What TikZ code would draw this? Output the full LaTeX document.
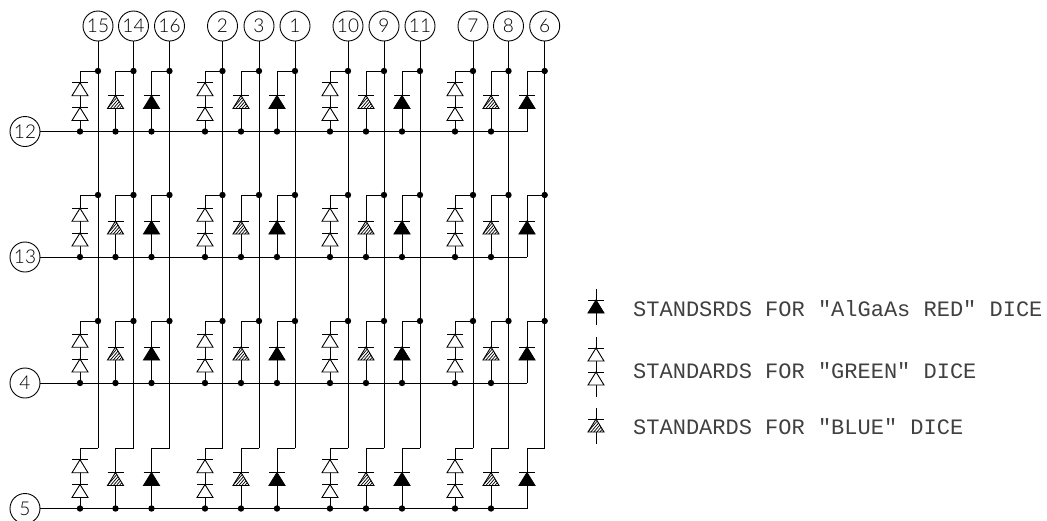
\documentclass[tikz,border=0pt]{standalone}
\usepackage{fontspec}
\setmainfont{Lato Light}
\newfontfamily\cadfont{Liberation Mono}
\usetikzlibrary{patterns}
\tikzset{
  x=1pt,y=-1pt,
  wire/.style={line width=0.9pt,line join=miter},
  pin/.style={circle,draw,line width=0.9pt,minimum size=30pt,inner sep=0pt,font=\fontsize{19}{19}\selectfont},
  legendtext/.style={anchor=base west,inner sep=0pt,font=\cadfont\fontsize{22}{22}\selectfont,text=black!75},
  dot/.style={circle,fill=black,draw=none,minimum size=6.4pt,inner sep=0pt},
  pics/ledblack/.style={code={
    \draw[wire,fill=black] (-8,13) -- (8,13) -- (0,0) -- cycle;
    \draw[wire] (-8,0) -- (8,0);}},
  pics/ledhatch/.style={code={
    \fill[white] (-8,13) -- (8,13) -- (0,0) -- cycle;
    \begin{scope}
      \clip (-8,13) -- (8,13) -- (0,0) -- cycle;
      \foreach \k in {-14,-11,...,16} {\draw[line width=0.7pt] (\k-4,14) -- (\k+8,0);}
    \end{scope}
    \draw[wire] (-8,13) -- (8,13) -- (0,0) -- cycle;
    \draw[wire] (-8,0) -- (8,0);}},
  pics/ledopen/.style={code={
    \draw[wire,fill=white] (-8,13) -- (8,13) -- (0,0) -- cycle;
    \draw[wire] (-8,0) -- (8,0);}},
}
\begin{document}
\begin{tikzpicture}
\useasboundingbox (0,0) rectangle (1047,520);
% row buses
\foreach \lab/\by in {12/131.5,13/257,4/383,5/508.5}{
  \node[pin] (p\lab) at (25,\by) {\lab};
  \coordinate (be\lab) at (527,\by);
  \draw[wire] (p\lab) -- (be\lab);
}
% columns
\foreach \lab/\wx/\dx/\kind in {
  15/98/80/g,14/133.5/115.5/b,16/169.5/151.5/r,
  2/222.5/205/g,3/259/241/b,1/295/277/r,
  10/348/330/g,9/384/366/b,11/420/402/r,
  7/473/455/g,8/508.5/491/b,6/544.7/527/r}{
  \node[pin] (c\lab) at (\wx,26) {\lab};
  \coordinate (end\lab) at (\wx,448);
  \draw[wire] (c\lab) -- (end\lab);
  \foreach \row/\top/\by/\busn in {1/71/131.5/12,2/195/257/13,3/321/383/4,4/448/508.5/5}{
    \coordinate (t\lab\row) at (\wx,\top);
    \coordinate (a\lab\row) at (\dx,\by);
    \draw[wire] (t\lab\row) -| (a\lab\row);
    \ifnum\row<4 \node[dot] at (t\lab\row) {};\fi
    \if\kind g
      \pic at (\dx,\by-48.8) {ledopen};
      \pic at (\dx,\by-24) {ledopen};
    \else\if\kind b
      \pic at (\dx,\by-36) {ledhatch};
    \else
      \pic at (\dx,\by-36) {ledblack};
    \fi\fi
  }
}
% bus dots
\foreach \by in {131.5,257,383,508.5}{
  \foreach \dx in {80,115.5,151.5,205,241,277,330,366,402,455,491}{
    \node[dot] at (\dx,\by) {};
  }
}
% legend
\coordinate (lr1) at (596,289); \coordinate (lr2) at (596,325);
\draw[wire] (lr1) -- (lr2);
\pic at (596,300) {ledblack};
\coordinate (lg1) at (596,337); \coordinate (lg2) at (596,397);
\draw[wire] (lg1) -- (lg2);
\pic at (596,348) {ledopen};
\pic at (596,372) {ledopen};
\coordinate (lb1) at (596,408); \coordinate (lb2) at (596,444);
\draw[wire] (lb1) -- (lb2);
\pic at (596,419) {ledhatch};
\node[legendtext] (tr) at (633,316) {STANDSRDS FOR ″AlGaAs RED″ DICE};
\node[legendtext] (tg) at (633,378) {STANDARDS FOR ″GREEN″ DICE};
\node[legendtext] (tb) at (633,434) {STANDARDS FOR ″BLUE″ DICE};
\end{tikzpicture}
\end{document}
